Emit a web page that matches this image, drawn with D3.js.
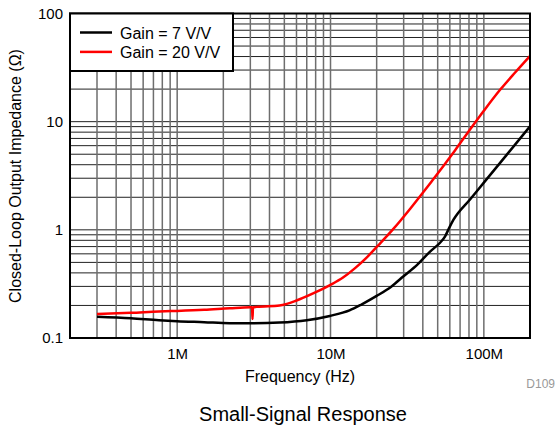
<!DOCTYPE html>
<html>
<head>
<meta charset="utf-8">
<script src="https://cdn.jsdelivr.net/npm/d3@7"></script>
<style>
  body { margin: 0; background: #fff; }
  svg { display: block; font-family: "Liberation Sans", Arial, sans-serif; }
</style>
</head>
<body>
<div id="chart"></div>
<script>
// Closed-loop output impedance vs frequency, two gain settings
var seriesNames = ['Gain = 7 V/V', 'Gain = 20 V/V'];
var seriesColors = ['#000000', '#ff0000'];

// Gain = 7 V/V  (frequency in Hz, impedance in ohms)
var gain7Freq = [3e5, 5e5, 7.6e5, 1e6, 1.5e6, 2.2e6, 3e6, 4.65e6, 7e6, 9.9e6, 13.3e6, 16e6, 20e6,
  25e6, 29.8e6, 37e6, 44.6e6, 51.8e6, 55.9e6, 59e6, 63.4e6, 81.5e6, 100e6, 140e6, 200e6];
var gain7Z = [0.157, 0.152, 0.146, 0.143, 0.140, 0.137, 0.137, 0.139, 0.146, 0.160, 0.180, 0.205, 0.245,
  0.30, 0.37, 0.48, 0.63, 0.76, 0.87, 1.02, 1.24, 1.92, 2.73, 4.88, 9.05];

// Gain = 20 V/V
var gain20Freq = [3e5, 5e5, 7.6e5, 1e6, 1.5e6, 2.2e6, 3e6, 3.08e6, 3.1e6, 3.12e6, 3.3e6, 4.65e6, 6e6, 7.7e6,
  10e6, 12e6, 14.4e6, 17e6, 20.5e6, 25.7e6, 33e6, 40e6, 46.9e6, 54.5e6, 65e6, 81.5e6, 100e6, 128e6, 160e6, 200e6];
var gain20Z = [0.167, 0.171, 0.176, 0.178, 0.182, 0.188, 0.192, 0.192, 0.15, 0.192, 0.194, 0.200, 0.222, 0.258,
  0.31, 0.36, 0.44, 0.545, 0.72, 1.02, 1.56, 2.2, 2.95, 3.9, 5.45, 8.5, 12.6, 19.8, 28.5, 40.5];

var xTickValues = [1e6, 1e7, 1e8];
var xTickLabels = ['1M', '10M', '100M'];
var yTickValues = [0.1, 1, 10, 100];
var yTickLabels = ['0.1', '1', '10', '100'];

var W = 556, H = 430;
var margin = { top: 13.5, right: 26, bottom: 92, left: 70 };
var width = W - margin.left - margin.right;
var height = H - margin.top - margin.bottom;

var svg = d3.select('#chart').append('svg').attr('width', W).attr('height', H);
var g = svg.append('g').attr('transform', 'translate(' + margin.left + ',' + margin.top + ')');

var x = d3.scaleLog().domain([2e5, 2e8]).range([0, width]);
var y = d3.scaleLog().domain([0.1, 100]).range([height, 0]);

// grid lines: every 1..9 within each decade
var xGrid = [];
[1e5, 1e6, 1e7, 1e8].forEach(function (d) {
  for (var k = 1; k < 10; k++) {
    var v = d * k;
    if (v > 2e5 && v < 2e8) xGrid.push(v);
  }
});
var yGrid = [];
[0.1, 1, 10].forEach(function (d) {
  for (var k = 1; k < 10; k++) {
    var v = d * k;
    if (v > 0.1) yGrid.push(v);
  }
});

g.append('g').selectAll('line').data(yGrid).enter().append('line')
  .attr('x1', 0).attr('x2', width)
  .attr('y1', function (d) { return y(d); }).attr('y2', function (d) { return y(d); })
  .attr('stroke', '#222').attr('stroke-width', 1);

g.append('g').selectAll('line').data(xGrid).enter().append('line')
  .attr('y1', 0).attr('y2', height)
  .attr('x1', function (d) { return x(d); }).attr('x2', function (d) { return x(d); })
  .attr('stroke', '#6e6e6e').attr('stroke-width', 1.5);

// curves
var line = d3.line()
  .x(function (d) { return x(d[0]); })
  .y(function (d) { return y(d[1]); })
  .curve(d3.curveMonotoneX);

var series = [
  d3.zip(gain7Freq, gain7Z),
  d3.zip(gain20Freq, gain20Z)
];

g.append('g').selectAll('path').data(series).enter().append('path')
  .attr('d', line)
  .attr('fill', 'none')
  .attr('stroke', function (d, i) { return seriesColors[i]; })
  .attr('stroke-width', 2.5)
  .attr('stroke-linejoin', 'round');

// plot frame
g.append('rect').attr('width', width).attr('height', height)
  .attr('fill', 'none').attr('stroke', '#000').attr('stroke-width', 2);

// axes (labels only)
var xAxis = g.append('g').attr('transform', 'translate(0,' + height + ')')
  .call(d3.axisBottom(x).tickValues(xTickValues).tickSize(0).tickPadding(10)
    .tickFormat(function (d, i) { return xTickLabels[i]; }));
var yAxis = g.append('g')
  .call(d3.axisLeft(y).tickValues(yTickValues).tickSize(0).tickPadding(7)
    .tickFormat(function (d, i) { return yTickLabels[i]; }));
[xAxis, yAxis].forEach(function (a) {
  a.select('.domain').remove();
  a.selectAll('text').attr('font-size', 15).attr('fill', '#000')
    .attr('font-family', '"Liberation Sans", Arial, sans-serif');
});

// legend
var legend = g.append('g');
legend.append('rect').attr('x', 0).attr('y', 0).attr('width', 163).attr('height', 57.5)
  .attr('fill', '#fff').attr('stroke', '#000').attr('stroke-width', 2);
seriesNames.forEach(function (name, i) {
  var ly = 19 + i * 19.4;
  legend.append('line').attr('x1', 10).attr('x2', 42).attr('y1', ly).attr('y2', ly)
    .attr('stroke', seriesColors[i]).attr('stroke-width', 2.5);
  legend.append('text').attr('x', 50).attr('y', ly + 6).attr('font-size', 16).text(name);
});

// titles
svg.append('text').attr('x', margin.left + width / 2).attr('y', 382)
  .attr('text-anchor', 'middle').attr('font-size', 16).text('Frequency (Hz)');
svg.append('text').attr('transform', 'translate(21,176) rotate(-90)')
  .attr('text-anchor', 'middle').attr('font-size', 16).text('Closed-Loop Output Impedance (\u03A9)');
svg.append('text').attr('x', 555).attr('y', 388).attr('text-anchor', 'end')
  .attr('font-size', 12).attr('fill', '#999').text('D109');
svg.append('text').attr('x', 303).attr('y', 421).attr('text-anchor', 'middle')
  .attr('font-size', 20).text('Small-Signal Response');
</script>
</body>
</html>
